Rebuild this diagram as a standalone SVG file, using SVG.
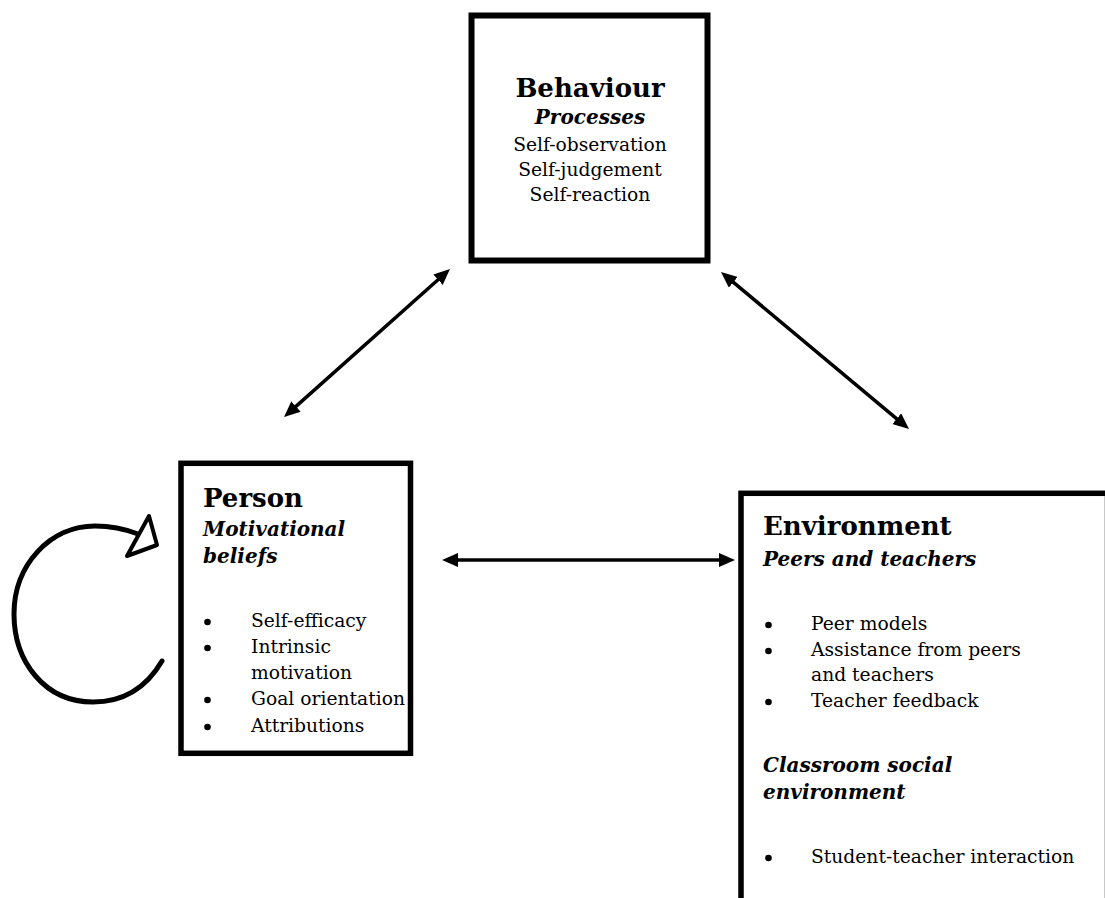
<svg xmlns="http://www.w3.org/2000/svg" width="1105" height="898" viewBox="0 0 1105 898">
<style>
.box{fill:#fff;stroke:#000;stroke-width:5.5}
.h{font-family:"DejaVu Serif","Liberation Serif",serif;font-weight:bold;font-size:26px;fill:#000}
.bi{font-family:"DejaVu Serif","Liberation Serif",serif;font-weight:bold;font-style:italic;font-size:20px;fill:#000}
.t{font-family:"DejaVu Serif","Liberation Serif",serif;font-size:18.7px;fill:#000}
.dot{fill:#000}
.c{text-anchor:middle}
.conn{stroke:#000;stroke-width:3.5;fill:none}
</style>
<defs>
<marker id="ah" viewBox="0 0 16 14" markerWidth="16" markerHeight="14" refX="6" refY="7" orient="auto-start-reverse" markerUnits="userSpaceOnUse">
<path d="M0,0 L16,7 L0,14 z" fill="#000"/>
</marker>
</defs>
<rect width="1105" height="898" fill="#fff"/>
<g id="connectors">
<line class="conn" x1="291.5" y1="410.4" x2="442.5" y2="275.7" marker-start="url(#ah)" marker-end="url(#ah)"/>
<line class="conn" x1="728.7" y1="278.4" x2="901.3" y2="422.6" marker-start="url(#ah)" marker-end="url(#ah)"/>
<line class="conn" x1="452" y1="560" x2="725" y2="560" marker-start="url(#ah)" marker-end="url(#ah)"/>
<g id="self-loop">
<path d="M162,661 C145,690 120,702 93,702 C45,702 14,662 14,614 C14,565 50,526 95,526 C110,526 125,529 138,534" fill="none" stroke="#000" stroke-width="5" stroke-linecap="round"/>
<polygon points="149,516 157,545 127,556" fill="#fff" stroke="#000" stroke-width="4" stroke-linejoin="round"/>
</g>
</g>
<g id="behaviour">
<rect class="box" x="471.5" y="15.5" width="236" height="245" style="stroke-width:6"/>
<text class="h c" x="590" y="97">Behaviour</text>
<text class="bi c" x="590" y="124">Processes</text>
<text class="t c" x="590" y="151">Self-observation</text>
<text class="t c" x="590" y="176">Self-judgement</text>
<text class="t c" x="590" y="201">Self-reaction</text>
</g>
<g id="person">
<rect class="box" x="181" y="463.3" width="229.5" height="290"/>
<text class="h" x="203" y="507">Person</text>
<text class="bi" x="203" y="536">Motivational</text>
<text class="bi" x="203" y="563">beliefs</text>
<circle class="dot" cx="207.5" cy="622" r="3.3"/>
<text class="t" x="251" y="627">Self-efficacy</text>
<circle class="dot" cx="207.5" cy="648" r="3.3"/>
<text class="t" x="251" y="653">Intrinsic</text>
<text class="t" x="251" y="679">motivation</text>
<circle class="dot" cx="207.5" cy="700" r="3.3"/>
<text class="t" x="251" y="705">Goal orientation</text>
<circle class="dot" cx="207.5" cy="727" r="3.3"/>
<text class="t" x="251" y="732">Attributions</text>
</g>
<g id="environment">
<rect class="box" x="741" y="493.3" width="400" height="450"/>
<line x1="1104.5" y1="496" x2="1104.5" y2="898" stroke="#c8c8c8" stroke-width="1"/>
<text class="h" x="763" y="535">Environment</text>
<text class="bi" x="763" y="566">Peers and teachers</text>
<circle class="dot" cx="768.5" cy="625" r="3.3"/>
<text class="t" x="811" y="630">Peer models</text>
<circle class="dot" cx="768.5" cy="651" r="3.3"/>
<text class="t" x="811" y="656">Assistance from peers</text>
<text class="t" x="811" y="681">and teachers</text>
<circle class="dot" cx="768.5" cy="702" r="3.3"/>
<text class="t" x="811" y="707">Teacher feedback</text>
<text class="bi" x="763" y="772">Classroom social</text>
<text class="bi" x="763" y="799">environment</text>
<circle class="dot" cx="768.5" cy="858" r="3.3"/>
<text class="t" x="811" y="863">Student-teacher interaction</text>
</g>
</svg>
